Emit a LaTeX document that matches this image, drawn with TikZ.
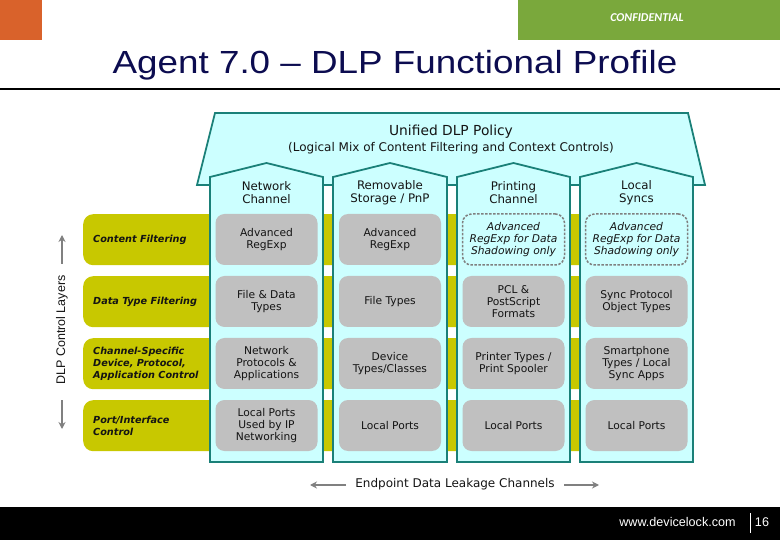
\documentclass[tikz,border=0pt]{standalone}
\usepackage{fontspec}
\setmainfont{DejaVu Sans}
\newfontfamily\arialf{Liberation Sans}
\newfontfamily\calib{Carlito}
\usetikzlibrary{arrows.meta}
\definecolor{orng}{RGB}{217,98,43}
\definecolor{grn}{RGB}{122,168,60}
\definecolor{navy}{RGB}{12,12,80}
\definecolor{olive}{RGB}{200,200,0}
\definecolor{cellgray}{RGB}{192,192,192}
\definecolor{colfill}{RGB}{204,255,255}
\definecolor{tealb}{RGB}{26,128,120}
\definecolor{arrgray}{RGB}{128,128,128}
\definecolor{txt}{RGB}{20,20,20}
\begin{document}
\begin{tikzpicture}[x=1pt,y=-1pt,
  rowbar/.style={fill=olive, draw=none, rounded corners=10pt, minimum width=607pt, minimum height=51pt, inner sep=0pt, anchor=north west},
  rowlab/.style={anchor=west, align=left, inner sep=0pt, text=txt, font=\fontsize{9.7}{12}\selectfont\bfseries\itshape},
  cell/.style={fill=cellgray, draw=none, rounded corners=9pt, minimum width=102pt, minimum height=51pt, inner sep=0pt, align=center, text=txt, font=\fontsize{10.7}{12}\selectfont},
  dcell/.style={cell, fill=colfill, draw=arrgray, line width=1.5pt, dash pattern=on 2.5pt off 1.5pt, font=\fontsize{10.7}{12}\selectfont\itshape},
  hdr/.style={align=center, inner sep=0pt, text=txt, font=\fontsize{11.8}{13.5}\selectfont},
  colshape/.style={fill=colfill, draw=tealb, line width=1.8pt, line join=miter},
  garrow/.style={draw=arrgray, line width=2.2pt, -{Stealth[length=7pt,width=7pt]}}
]
\useasboundingbox (0,0) rectangle (780,540);
% top banner
\fill[orng] (0,0) rectangle (42,40);
\fill[grn] (518,0) rectangle (780,40);
\node[text=white, font=\calib\fontsize{12}{14}\selectfont\bfseries\itshape] (conf) at (647,18) {CONFIDENTIAL};
% title
\node[anchor=base, text=navy, inner sep=0pt, font=\arialf\fontsize{32}{36}\selectfont] (title) at (395,74) {\scalebox{1.15}[1]{Agent 7.0 – DLP Functional Profile}};
\draw[line width=2pt] (0,89) -- (780,89);
% roof
\path[colshape] (215,113) -- (688,113) -- (705,185) -- (197,185) -- cycle;
\node[inner sep=0pt, text=txt, font=\fontsize{13.8}{16}\selectfont] (pol) at (451,132) {Unified DLP Policy};
\node[inner sep=0pt, text=txt, font=\fontsize{12}{14}\selectfont] (mix) at (451,148) {(Logical Mix of Content Filtering and Context Controls)};
% row bars
\node[rowbar] (r1) at (83,214) {};
\node[rowbar] (r2) at (83,276) {};
\node[rowbar] (r3) at (83,338) {};
\node[rowbar] (r4) at (83,400) {};
\node[rowlab] (l1) at (93,239.5) {Content Filtering};
\node[rowlab] (l2) at (93,301.5) {Data Type Filtering};
\node[rowlab] (l3) at (93,363.5) {Channel-Specific\\Device, Protocol,\\Application Control};
\node[rowlab] (l4) at (93,425.5) {Port/Interface\\Control};
% columns
\path[colshape] (210,462) -- (210,177) -- (266.5,163) -- (323,177) -- (323,462) -- cycle;
\path[colshape] (333,462) -- (333,177) -- (390,163) -- (447,177) -- (447,462) -- cycle;
\path[colshape] (457,462) -- (457,177) -- (513.5,163) -- (570,177) -- (570,462) -- cycle;
\path[colshape] (580,462) -- (580,177) -- (636.5,163) -- (693,177) -- (693,462) -- cycle;
% headers
\node[hdr] (h1) at (266.5,192.5) {Network\\Channel};
\node[hdr] (h2) at (390,192.5) {Removable\\Storage / PnP};
\node[hdr] (h3) at (513.5,192.5) {Printing\\Channel};
\node[hdr] (h4) at (636.5,192.5) {Local\\Syncs};
% cells row 1
\node[cell] (c11) at (266.5,239.5) {Advanced\\RegExp};
\node[cell] (c12) at (390,239.5) {Advanced\\RegExp};
\node[dcell] (c13) at (513.5,239.5) {Advanced\\RegExp for Data\\Shadowing only};
\node[dcell] (c14) at (636.5,239.5) {Advanced\\RegExp for Data\\Shadowing only};
% row 2
\node[cell] (c21) at (266.5,301.5) {File \& Data\\Types};
\node[cell] (c22) at (390,301.5) {File Types};
\node[cell] (c23) at (513.5,301.5) {PCL \&\\PostScript\\Formats};
\node[cell] (c24) at (636.5,301.5) {Sync Protocol\\Object Types};
% row 3
\node[cell] (c31) at (266.5,363.5) {Network\\Protocols \&\\Applications};
\node[cell] (c32) at (390,363.5) {Device\\Types/Classes};
\node[cell] (c33) at (513.5,363.5) {Printer Types /\\Print Spooler};
\node[cell] (c34) at (636.5,363.5) {Smartphone\\Types / Local\\Sync Apps};
% row 4
\node[cell] (c41) at (266.5,425.5) {Local Ports\\Used by IP\\Networking};
\node[cell] (c42) at (390,425.5) {Local Ports};
\node[cell] (c43) at (513.5,425.5) {Local Ports};
\node[cell] (c44) at (636.5,425.5) {Local Ports};
% left axis label
\node[rotate=90, inner sep=0pt, text=txt, font=\arialf\fontsize{12.5}{14}\selectfont] (lay) at (62,330) {DLP Control Layers};
\coordinate (ua1) at (62,264);
\coordinate (ua2) at (62,235);
\coordinate (da1) at (62,400);
\coordinate (da2) at (62,429);
\draw[garrow] (ua1) -- (ua2);
\draw[garrow] (da1) -- (da2);
% bottom label
\node[inner sep=0pt, text=txt, font=\fontsize{12}{14}\selectfont] (epl) at (455,484) {Endpoint Data Leakage Channels};
\coordinate (la1) at (346,485);
\coordinate (la2) at (310,485);
\coordinate (ra1) at (564,485);
\coordinate (ra2) at (599,485);
\draw[garrow] (la1) -- (la2);
\draw[garrow] (ra1) -- (ra2);
% footer
\fill[black] (0,507) rectangle (780,540);
\node[text=white, inner sep=0pt, font=\arialf\fontsize{12.6}{14}\selectfont] (www) at (677.5,522) {www.devicelock.com};
\coordinate (v1) at (750,513);
\coordinate (v2) at (750,533);
\draw[white, line width=1pt] (v1) -- (v2);
\node[text=white, inner sep=0pt, font=\arialf\fontsize{12.6}{14}\selectfont] (pg) at (762,522) {16};
\end{tikzpicture}
\end{document}
